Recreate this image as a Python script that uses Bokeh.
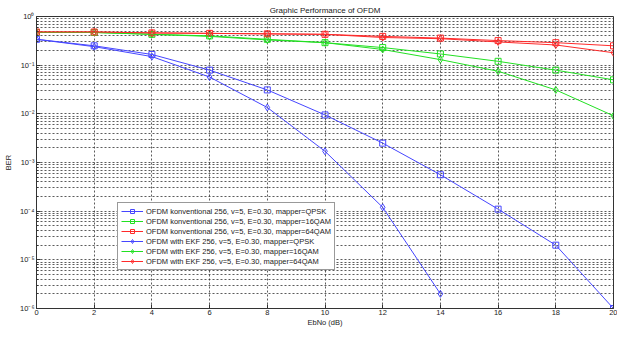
from bokeh.plotting import figure
from bokeh.models import FixedTicker, CustomJSTickFormatter, Legend, LegendItem, Range1d
from bokeh.embed import file_html
from bokeh.resources import INLINE

ebno = [0, 2, 4, 6, 8, 10, 12, 14, 16, 18, 20]
ekf_x = [0, 2, 4, 6, 8, 10, 12, 14]

conv_qpsk = [0.34, 0.25, 0.166, 0.079, 0.031, 0.0095, 0.0025, 5.6e-4, 1.1e-4, 2.0e-5, 1.0e-6]
conv_16qam = [0.47, 0.47, 0.43, 0.40, 0.34, 0.29, 0.23, 0.17, 0.12, 0.079, 0.050]
conv_64qam = [0.48, 0.48, 0.46, 0.45, 0.44, 0.43, 0.39, 0.36, 0.32, 0.29, 0.25]
ekf_qpsk = [0.34, 0.24, 0.15, 0.057, 0.0135, 0.0017, 1.2e-4, 2.0e-6]
ekf_16qam = [0.47, 0.47, 0.43, 0.39, 0.33, 0.29, 0.21, 0.13, 0.075, 0.031, 0.0091]
ekf_64qam = [0.48, 0.48, 0.46, 0.45, 0.44, 0.43, 0.37, 0.35, 0.30, 0.26, 0.18]

labels = [
    "OFDM konventional 256, v=5, E=0.30, mapper=QPSK",
    "OFDM konventional 256, v=5, E=0.30, mapper=16QAM",
    "OFDM konventional 256, v=5, E=0.30, mapper=64QAM",
    "OFDM with EKF 256, v=5, E=0.30, mapper=QPSK",
    "OFDM with EKF 256, v=5, E=0.30, mapper=16QAM",
    "OFDM with EKF 256, v=5, E=0.30, mapper=64QAM",
]

x_ticks = [0, 2, 4, 6, 8, 10, 12, 14, 16, 18, 20]
y_major = [1e-6, 1e-5, 1e-4, 1e-3, 1e-2, 1e-1, 1.0]

FONT = "Liberation Sans"
TXT = "#222222"

p = figure(width=617, height=329, y_axis_type="log",
           x_range=Range1d(0, 20), y_range=Range1d(1e-6, 1.0),
           output_backend="svg", toolbar_location=None,
           min_border_left=28, min_border_right=4, min_border_top=16, min_border_bottom=4,
           title="Graphic Performance of OFDM")
p.title.align = "center"
p.title.text_font = FONT
p.title.text_font_size = "8px"
p.title.text_font_style = "normal"
p.title.text_color = TXT
p.title.standoff = 3
p.title.offset = 0

p.outline_line_color = "#333333"
p.outline_line_width = 1

minor = []
for e in range(-6, 0):
    for k in range(2, 10):
        minor.append(k * 10.0 ** e)

p.xaxis.ticker = FixedTicker(ticks=x_ticks)
p.yaxis.ticker = FixedTicker(ticks=y_major, minor_ticks=minor)
p.yaxis.formatter = CustomJSTickFormatter(code="""
const sup = {'0':'\u2070','1':'\u00b9','2':'\u00b2','3':'\u00b3','4':'\u2074','5':'\u2075','6':'\u2076','7':'\u2077','8':'\u2078','9':'\u2079','-':'\u207b'};
const e = Math.round(Math.log10(tick)).toString();
let s = '';
for (const c of e) { s += sup[c]; }
return '10' + s;
""")

for ax in (p.xaxis, p.yaxis):
    ax.axis_line_color = "#333333"
    ax.major_tick_in = 4
    ax.major_tick_out = 0
    ax.minor_tick_in = 2
    ax.minor_tick_out = 0
    ax.major_tick_line_color = "#333333"
    ax.minor_tick_line_color = "#333333"
    ax.major_label_text_font = FONT
    ax.major_label_text_font_size = "7.5px"
    ax.major_label_text_color = TXT
    ax.axis_label_text_font = FONT
    ax.axis_label_text_font_size = "7.5px"
    ax.axis_label_text_font_style = "normal"
    ax.axis_label_text_color = TXT

p.xaxis.major_label_standoff = 1
p.xaxis.axis_label_standoff = 0
p.yaxis.major_label_standoff = 2
p.yaxis.axis_label_standoff = 4

p.yaxis.axis_label = "BER"
p.xaxis.axis_label = "EbNo (dB)"
p.xaxis.minor_tick_line_color = None

for g in (p.xgrid, p.ygrid):
    g.grid_line_color = "#333333"
    g.grid_line_dash = "2 2"
    g.grid_line_alpha = 0.8
p.ygrid.minor_grid_line_color = "#333333"
p.ygrid.minor_grid_line_dash = "2 2"
p.ygrid.minor_grid_line_alpha = 0.8

BLUE = "#4646ff"
GREEN = "#22e022"
RED = "#ff2a2a"

series = [
    (ebno, conv_qpsk, BLUE, "square"),
    (ebno, conv_16qam, GREEN, "square"),
    (ebno, conv_64qam, RED, "square"),
    (ekf_x, ekf_qpsk, BLUE, "diamond"),
    (ebno, ekf_16qam, GREEN, "diamond"),
    (ebno, ekf_64qam, RED, "diamond"),
]

items = []
for (xs, ys, col, mk), lab in zip(series, labels):
    ln = p.line(xs, ys, line_color=col, line_width=1)
    sc = p.scatter(xs, ys, marker=mk, size=6 if mk == "square" else 7,
                   line_color=col, fill_color="white", fill_alpha=0.0, line_width=1)
    items.append(LegendItem(label=lab, renderers=[ln, sc]))

legend = Legend(items=items, location=(81, 38))
legend.label_text_font = FONT
legend.label_text_font_size = "7.5px"
legend.label_text_color = TXT
legend.label_height = 10
legend.glyph_height = 10
legend.glyph_width = 22
legend.label_standoff = 3
legend.spacing = 0
legend.padding = 3
legend.margin = 0
legend.border_line_color = "#333333"
legend.border_line_width = 1
legend.background_fill_alpha = 1.0
p.add_layout(legend, "center")

open("out.html", "w").write(file_html(p, INLINE))
